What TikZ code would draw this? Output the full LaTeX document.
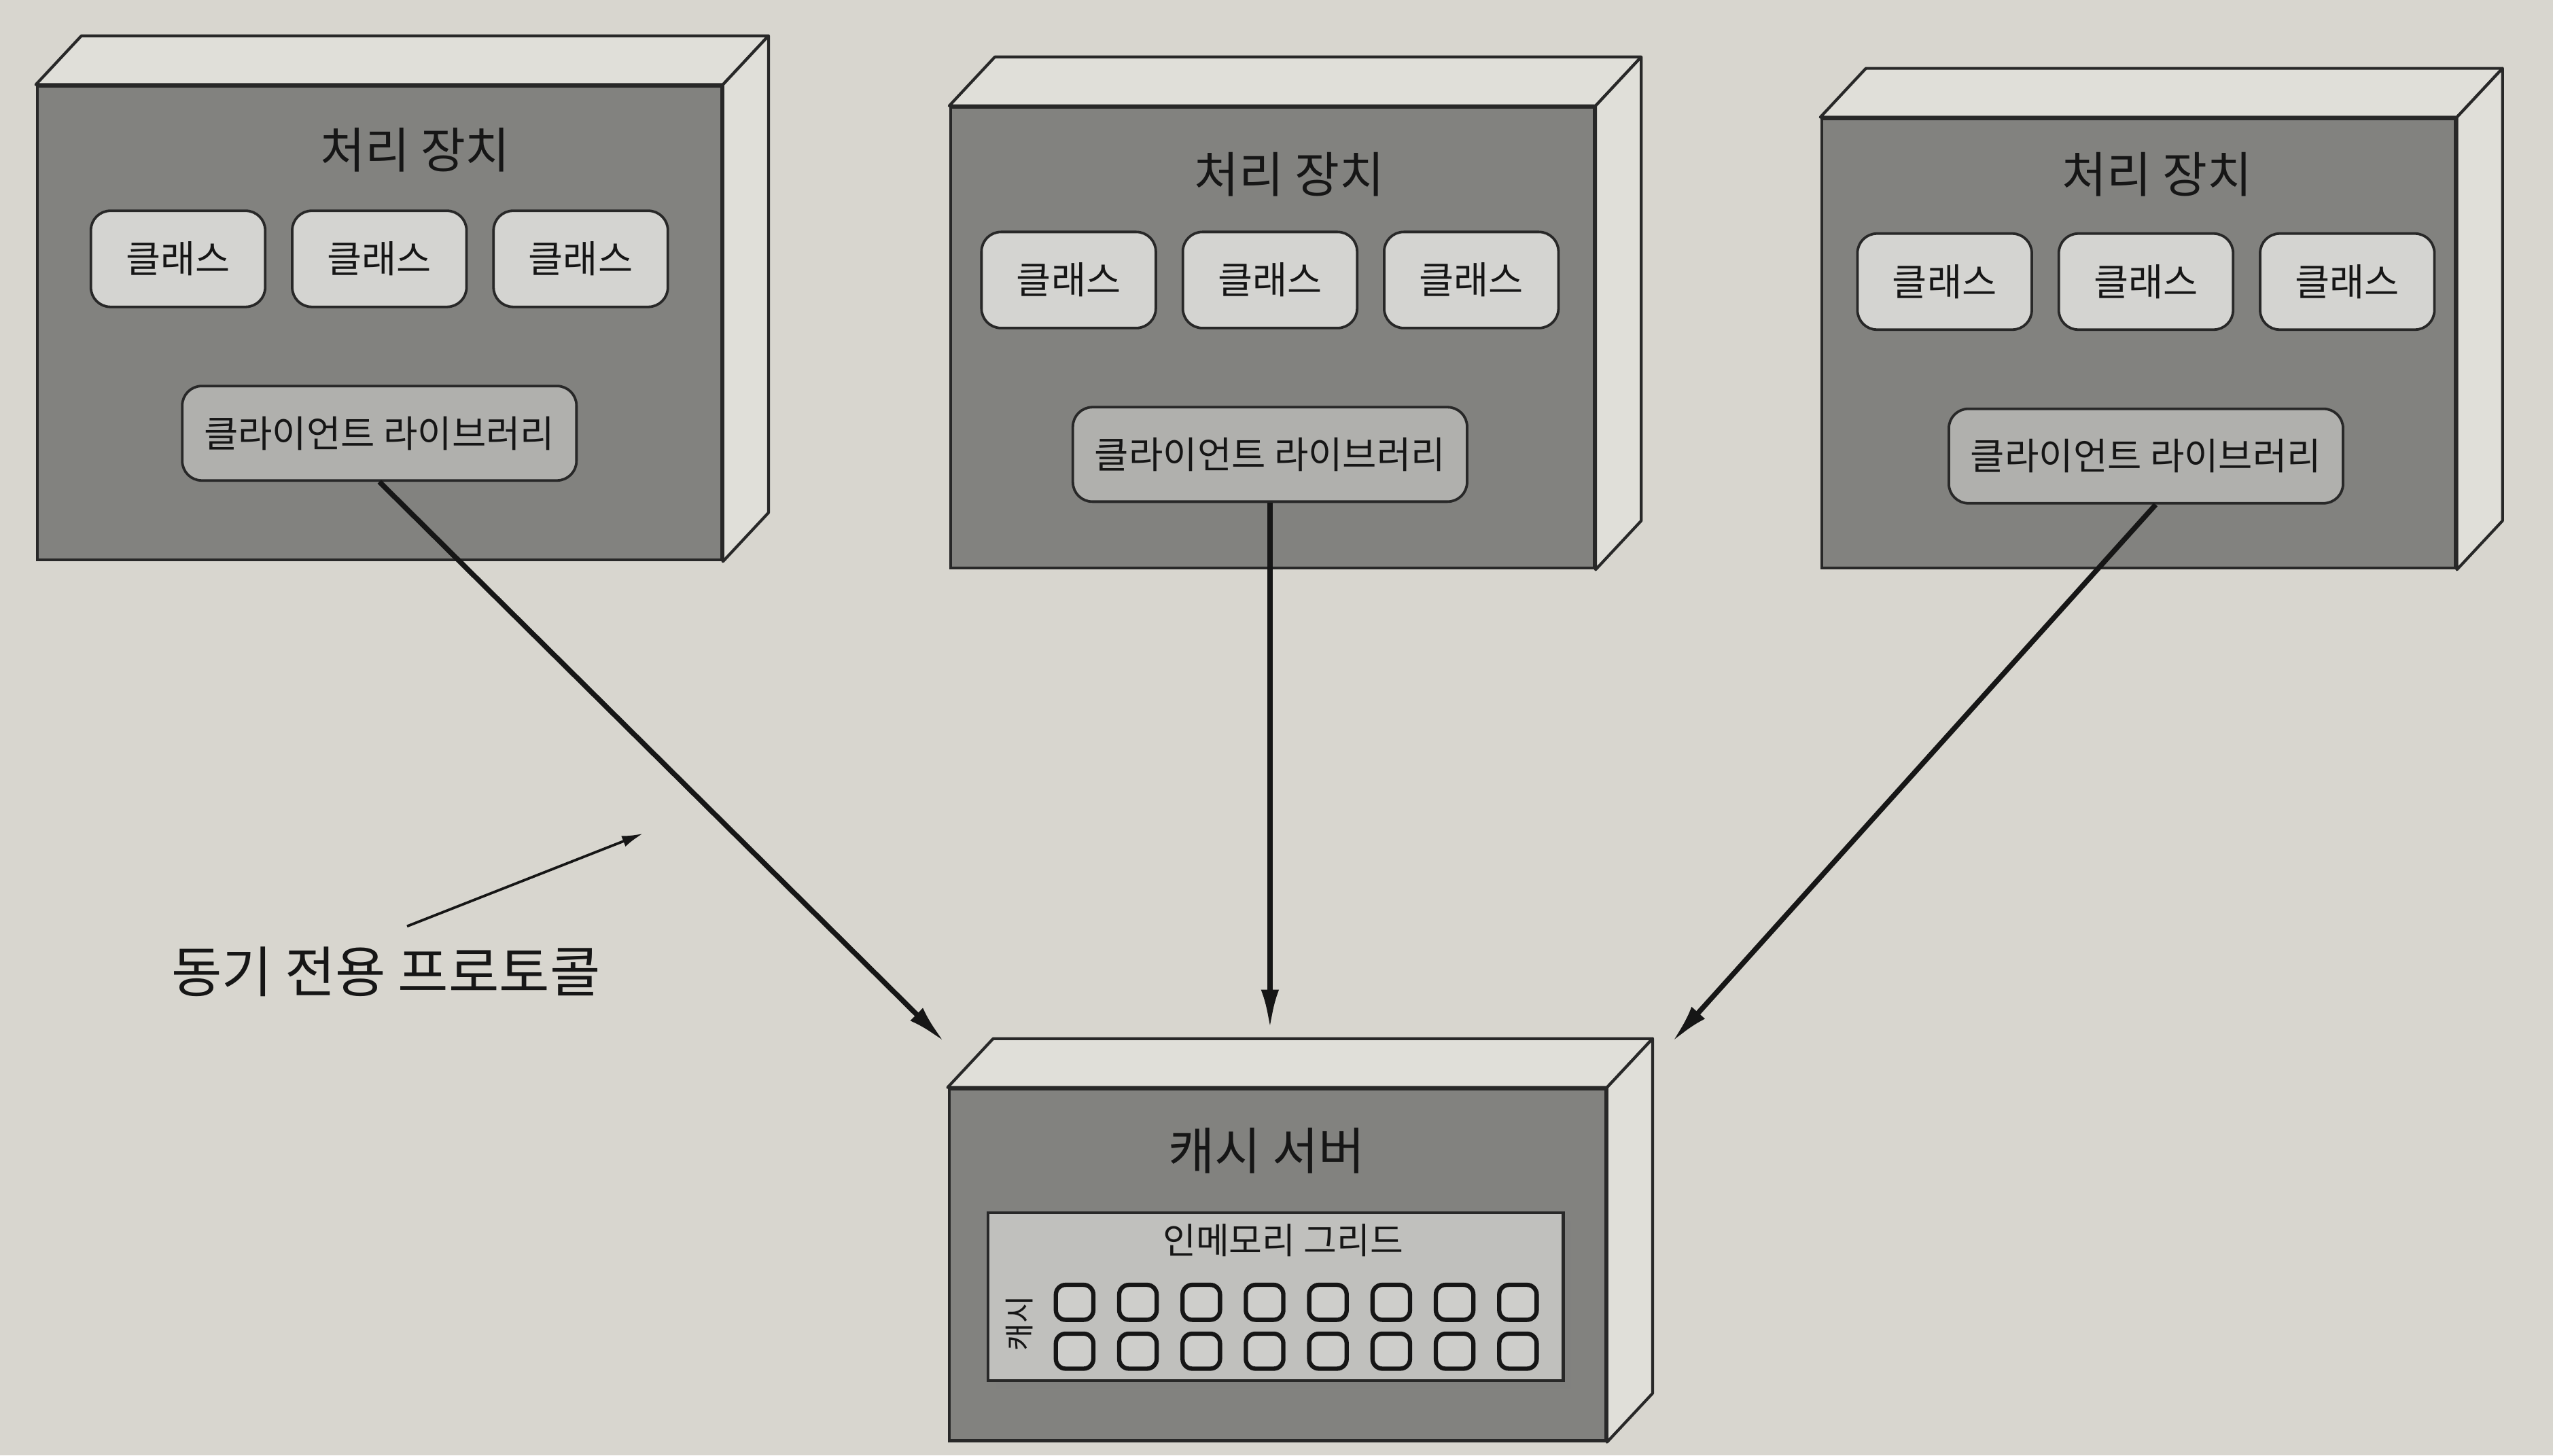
\documentclass[tikz,border=0pt]{standalone}
\usepackage{fontspec}
\setmainfont{Noto Sans CJK KR}
\usetikzlibrary{positioning, arrows.meta, shadows}

\definecolor{paper}{RGB}{216,214,207}
\definecolor{frontgray}{RGB}{130,130,127}
\definecolor{sidegray}{RGB}{224,223,217}
\definecolor{clsgray}{RGB}{212,212,209}
\definecolor{libgray}{RGB}{176,176,173}
\definecolor{gridgray}{RGB}{192,192,189}
\definecolor{cellgray}{RGB}{206,206,203}
\definecolor{edge}{RGB}{40,40,40}
\definecolor{ink}{RGB}{22,22,22}

\begin{document}
\begin{tikzpicture}[
        x=0.01cm, y=-0.01cm,
        node distance=0.47cm and 0.15cm,
        front/.style={draw=edge, line width=0.5pt, fill=frontgray, anchor=north west, inner sep=0pt},
        side/.style={draw=edge, line width=0.5pt, fill=sidegray, line join=round},
        heading/.style={font=\fontsize{8.5}{10}\selectfont, text=ink},
        cls/.style={draw=edge, line width=0.45pt, fill=clsgray, rounded corners=0.12cm, minimum width=1.07cm, minimum height=0.59cm, inner sep=0pt, font=\fontsize{6.6}{8}\selectfont, text=ink},
        lib/.style={cls, fill=libgray, minimum width=2.42cm, minimum height=0.58cm, font=\fontsize{6.5}{8}\selectfont},
        cell/.style={draw=ink, line width=0.75pt, fill=cellgray, rounded corners=0.06cm, minimum width=0.23cm, minimum height=0.215cm, inner sep=0pt},
        arrow/.style={draw=ink, line width=0.9pt, -{Latex[length=0.24cm, width=0.11cm]}},
        pointer/.style={draw=ink, line width=0.45pt, -{Latex[length=0.13cm, width=0.07cm]}}
    ]

    % Hintergrund
    \fill[paper] (0,0) rectangle (1568,894);

    % Verarbeitungseinheiten
    \node (pu1) [front, minimum width=4.20cm, minimum height=2.91cm] at (22,52) {};
    \node (pu2) [front, minimum width=3.95cm, minimum height=2.83cm] at (583,65) {};
    \node (pu3) [front, minimum width=3.89cm, minimum height=2.76cm] at (1118,72) {};
    \node (cache) [front, minimum width=4.03cm, minimum height=2.16cm] at (582,668) {};

    \foreach \n in {pu1, pu2, pu3, cache} {
        \draw[side] (\n.north west) -- ++(28,-30) -- ([shift={(28,-30)}]\n.north east) -- (\n.north east) -- cycle;
        \draw[side] (\n.north east) -- ([shift={(28,-30)}]\n.north east) -- ([shift={(28,-30)}]\n.south east) -- (\n.south east) -- cycle;
    }

    \node (title1) [heading] at (255,92) {처리 장치};
    \node (cls1b) [cls] at (233,159) {클래스};
    \node (cls1a) [cls, left=of cls1b] {클래스};
    \node (cls1c) [cls, right=of cls1b] {클래스};
    \node (lib1) [lib, below=of cls1b] {클라이언트 라이브러리};

    \node (title2) [heading] at (792,107) {처리 장치};
    \node (cls2b) [cls] at (780,172) {클래스};
    \node (cls2a) [cls, left=of cls2b] {클래스};
    \node (cls2c) [cls, right=of cls2b] {클래스};
    \node (lib2) [lib, below=of cls2b] {클라이언트 라이브러리};

    \node (title3) [heading] at (1325,107) {처리 장치};
    \node (cls3b) [cls] at (1318,173) {클래스};
    \node (cls3a) [cls, left=of cls3b] {클래스};
    \node (cls3c) [cls, right=of cls3b] {클래스};
    \node (lib3) [lib, below=of cls3b] {클라이언트 라이브러리};

    % Cache-Server
    \node (title4) [heading, font=\fontsize{8.8}{10}\selectfont] at (778,707) {캐시 서버};
    \node (grid) [draw=edge, line width=0.5pt, fill=gridgray, minimum width=3.53cm, minimum height=1.03cm, inner sep=0pt,
                  drop shadow={opacity=0.35, shadow xshift=0.05cm, shadow yshift=-0.05cm}] at (783.5,796.5) {};
    \node (gridlbl) [heading, font=\fontsize{6.3}{7}\selectfont] at (788,762) {인메모리 그리드};
    \node (cachelbl) [heading, font=\fontsize{5.2}{6}\selectfont, rotate=90] at (626,813) {캐시};
    \foreach \i in {0,...,7}
        \foreach \j in {0,1}
            \node (cell\i\j) [cell] at ({660+38.9*\i}, {800+30*\j}) {};

    % Verbindungen
    \coordinate (top2) at ([yshift=0.36cm]cache.north);
    \draw[arrow] (lib1.south) -- ([shift={(-2,-28)}]cache.north west);
    \draw[arrow] (lib2.south) -- (lib2.south |- top2);
    \draw[arrow] ([xshift=0.06cm]lib3.south) -- ([shift={(40,-28)}]cache.north east);

    % Beschriftung
    \node (proto) [heading, font=\fontsize{9.6}{11}\selectfont] at (237,597) {동기 전용 프로토콜};
    \coordinate (ptr) at (395,512);
    \draw[pointer] ([shift={(13,-28)}]proto.center) -- (ptr);

\end{tikzpicture}
\end{document}
